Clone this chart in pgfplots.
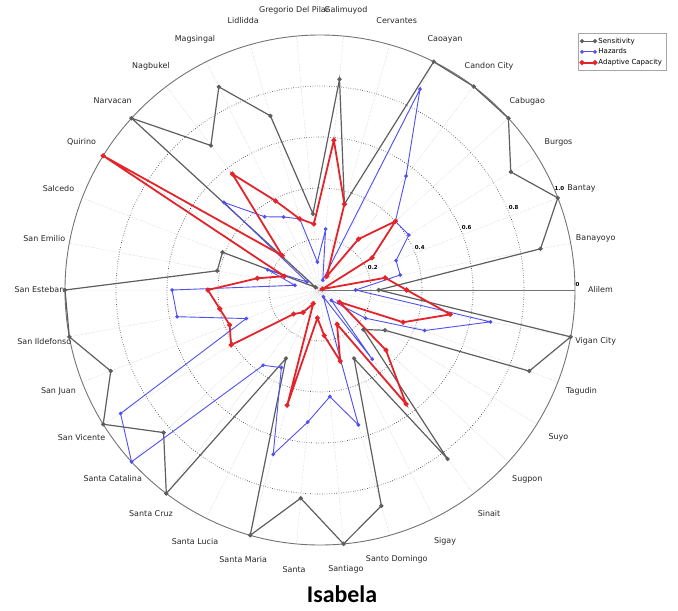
\documentclass[border=0pt]{standalone}
\usepackage{pgfplots}
\pgfplotsset{compat=1.18}
\usepackage{pgfplotstable}
\usepgfplotslibrary{polar}
\usepackage{fontspec}
\setmainfont{DejaVu Sans}
\newfontfamily\titlefont{Carlito}

\definecolor{sensc}{HTML}{5E5E5E}
\definecolor{hazc}{HTML}{5050EE}
\definecolor{adapc}{HTML}{E3242B}

\pgfplotstableread{
ang     sens haz  adap
0       0.23 0.14 0.34
10.588  0.88 0.32 0.26
21.176  1.00 0.32 0.01
31.765  0.88 0.41 0.24
42.353  1.00 0.40 0.40
52.941  1.00 0.56 0.25
63.529  1.00 0.88 0.06
74.118  0.35 0.04 0.35
84.706  0.83 0.24 0.59
95.294  0.30 0.11 0.26
105.882 0.71 0.29 0.29
116.471 0.89 0.32 0.39
127.059 0.71 0.36 0.57
137.647 1.00 0.51 0.20
148.235 0.02 0.06 1.00
158.824 0.41 0.22 0.15
169.412 0.41 0.10 0.25
180     1.00 0.58 0.44
190.588 1.00 0.57 0.40
201.176 0.88 0.31 0.38
211.765 1.00 0.92 0.41
222.353 0.83 1.00 0.14
232.941 1.00 0.37 0.11
243.529 0.30 0.34 0.06
254.118 1.00 0.67 0.47
264.706 0.82 0.52 0.11
275.294 1.00 0.42 0.18
285.882 0.88 0.55 0.29
296.471 0.30 0.03 0.15
307.059 0.83 0.34 0.56
317.647 0.23 0.06 0.35
328.235 0.30 0.21 0.09
338.824 0.88 0.44 0.35
349.412 1.00 0.68 0.52
360     0.23 0.14 0.34
}\datatable

\begin{document}
\begin{tikzpicture}
\path[use as bounding box] (-320bp,-321bp) rectangle (358bp,290bp);
\begin{polaraxis}[
  at={(0,0)}, anchor=center,
  width=510bp, scale only axis,
  xmin=0, xmax=360, ymin=0, ymax=1,
  xtick={0,10.588,21.176,31.765,42.353,52.941,63.529,74.118,84.706,95.294,105.882,116.471,127.059,137.647,148.235,158.824,169.412,180,190.588,201.176,211.765,222.353,232.941,243.529,254.118,264.706,275.294,285.882,296.471,307.059,317.647,328.235,338.824,349.412},
  xticklabels={},
  ytick={0.2,0.4,0.6,0.8},
  yticklabels={},
  major tick length=0,
  xmajorgrids, ymajorgrids,
  x grid style={gray!50, densely dotted, line width=0.4bp},
  y grid style={black, dotted, line width=0.7bp},
  axis line style={gray!90!black, line width=0.9bp},
  clip=false,
  legend cell align=left,
  legend style={at={(1.180,1.004)}, anchor=north east, draw=gray!70, line width=0.5bp,
    font=\fontsize{7}{8}\selectfont, row sep=0bp, inner sep=2.5bp},
  legend image code/.code={\draw[#1] plot coordinates {(0bp,0bp) (13bp,0bp)};},
]
\addplot[sensc, line width=1.2bp, mark=*, mark size=1.5bp] table[x=ang, y=sens] {\datatable};
\addlegendentry{Sensitivity}
\addplot[hazc, line width=0.9bp, mark=*, mark size=1.4bp] table[x=ang, y=haz] {\datatable};
\addlegendentry{Hazards}
\addplot[adapc, line width=1.8bp, mark=*, mark size=1.5bp] table[x=ang, y=adap] {\datatable};
\addlegendentry{Adaptive Capacity}

\begin{scope}[every node/.style={font=\bfseries\fontsize{5.5}{6}\selectfont}]
\node at (axis cs:23,0.225) {0.2};
\node at (axis cs:23,0.425) {0.4};
\node at (axis cs:23,0.625) {0.6};
\node at (axis cs:23,0.825) {0.8};
\node at (axis cs:23,1.02) {1.0};
\node at (axis cs:1.2,1.01) {0};
\end{scope}

\begin{scope}[every node/.style={font=\fontsize{8}{9}\selectfont, text=black!85}]
\node at (axis cs:0,1.1) {Alilem};
\node at (axis cs:10.588,1.1) {Banayoyo};
\node at (axis cs:21.176,1.1) {Bantay};
\node at (axis cs:31.765,1.1) {Burgos};
\node at (axis cs:42.353,1.1) {Cabugao};
\node at (axis cs:52.941,1.1) {Candon City};
\node at (axis cs:63.529,1.1) {Caoayan};
\node at (axis cs:74.118,1.1) {Cervantes};
\node at (axis cs:84.706,1.1) {Galimuyod};
\node at (axis cs:95.294,1.1) {Gregorio Del Pilar};
\node at (axis cs:105.882,1.1) {Lidlidda};
\node at (axis cs:116.471,1.1) {Magsingal};
\node at (axis cs:127.059,1.1) {Nagbukel};
\node at (axis cs:137.647,1.1) {Narvacan};
\node at (axis cs:148.235,1.1) {Quirino};
\node at (axis cs:158.824,1.1) {Salcedo};
\node at (axis cs:169.412,1.1) {San Emilio};
\node at (axis cs:180,1.1) {San Esteban};
\node at (axis cs:190.588,1.1) {San Ildefonso};
\node at (axis cs:201.176,1.1) {San Juan};
\node at (axis cs:211.765,1.1) {San Vicente};
\node at (axis cs:222.353,1.1) {Santa Catalina};
\node at (axis cs:232.941,1.1) {Santa Cruz};
\node at (axis cs:243.529,1.1) {Santa Lucia};
\node at (axis cs:254.118,1.1) {Santa Maria};
\node at (axis cs:264.706,1.1) {Santa};
\node at (axis cs:275.294,1.1) {Santiago};
\node at (axis cs:285.882,1.1) {Santo Domingo};
\node at (axis cs:296.471,1.1) {Sigay};
\node at (axis cs:307.059,1.1) {Sinait};
\node at (axis cs:317.647,1.1) {Sugpon};
\node at (axis cs:328.235,1.1) {Suyo};
\node at (axis cs:338.824,1.1) {Tagudin};
\node at (axis cs:349.412,1.1) {Vigan City};
\end{scope}
\end{polaraxis}
\node[font=\titlefont\bfseries\fontsize{24}{28}\selectfont] at (22bp,-304bp) {Isabela};
\end{tikzpicture}
\end{document}
